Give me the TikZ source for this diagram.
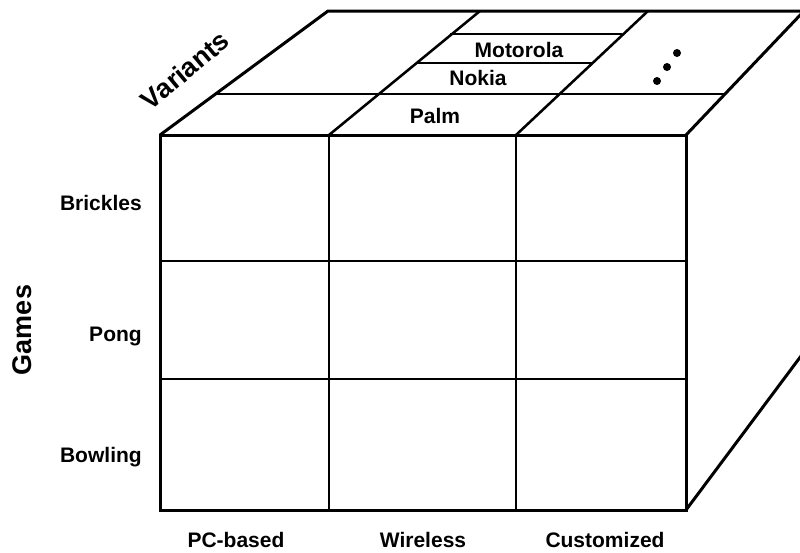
\documentclass[tikz,border=0pt]{standalone}
\usepackage{fontspec}
\setmainfont{Liberation Sans}
\usepackage{tikz}

\begin{document}
\begin{tikzpicture}[x=0.75pt,y=0.75pt,yscale=-1,xscale=1,
  edge/.style={line width=2.25pt},
  grid/.style={line width=1.9pt},
  thin grid/.style={line width=1.3pt},
  lbl/.style={font=\bfseries\fontsize{15.75}{18}\selectfont},
  title/.style={font=\bfseries\fontsize{20.25}{24}\selectfont}]
%set diagram left start at 0, and has height of 553
\useasboundingbox (0,0) rectangle (800,553);

%Shape: Rectangle [front face]
\draw [edge] (160,135) -- (686,135) -- (686,510) -- (160,510) -- cycle ;
%Straight Lines [columns]
\draw [grid] (329,135) -- (329,510) ;
\draw [grid] (516,135) -- (516,510) ;
%Straight Lines [rows]
\draw [thin grid] (160,261) -- (686,261) ;
\draw [thin grid] (160,379) -- (686,379) ;
%Shape: Polygon [top face]
\draw [edge] (160,135) -- (328,11) -- (804,11) -- (686,135) ;
\draw [grid] (329,135) -- (480,11) ;
\draw [grid] (516,135) -- (648,11) ;
%Straight Lines [variant layers]
\draw [grid] (216,94) -- (725,94) ;
\draw [thin grid] (416,63) -- (592,63) ;
\draw [thin grid] (450,34) -- (622,34) ;
%Straight Lines [right face]
\draw [edge] (686,510) -- (804,352) ;
%Shape: Circle [more variants]
\fill (677,53) circle (4) ;
\fill (667,67) circle (4) ;
\fill (657,81) circle (4) ;

% Text Node
\draw (185,70) node (variants) [rotate=40][title][inner sep=0.75pt] {Variants};
% Text Node
\draw (22,330) node (games) [rotate=90][title][inner sep=0.75pt] {Games};
% Text Node
\draw (519,57.5) node (motorola) [anchor=base][lbl][inner sep=0.75pt] {Motorola};
% Text Node
\draw (478,85.5) node (nokia) [anchor=base][lbl][inner sep=0.75pt] {Nokia};
% Text Node
\draw (435,123.5) node (palm) [anchor=base][lbl][inner sep=0.75pt] {Palm};
% Text Node
\draw (143,210.5) node (brickles) [anchor=base east][lbl][inner sep=0.75pt] {Brickles};
% Text Node
\draw (143,341.5) node (pong) [anchor=base east][lbl][inner sep=0.75pt] {Pong};
% Text Node
\draw (143,462.5) node (bowling) [anchor=base east][lbl][inner sep=0.75pt] {Bowling};
% Text Node
\draw (236,547.5) node (pcbased) [anchor=base][lbl][inner sep=0.75pt] {PC-based};
% Text Node
\draw (423,547.5) node (wireless) [anchor=base][lbl][inner sep=0.75pt] {Wireless};
% Text Node
\draw (605,547.5) node (customized) [anchor=base][lbl][inner sep=0.75pt] {Customized};
\end{tikzpicture}
\end{document}
